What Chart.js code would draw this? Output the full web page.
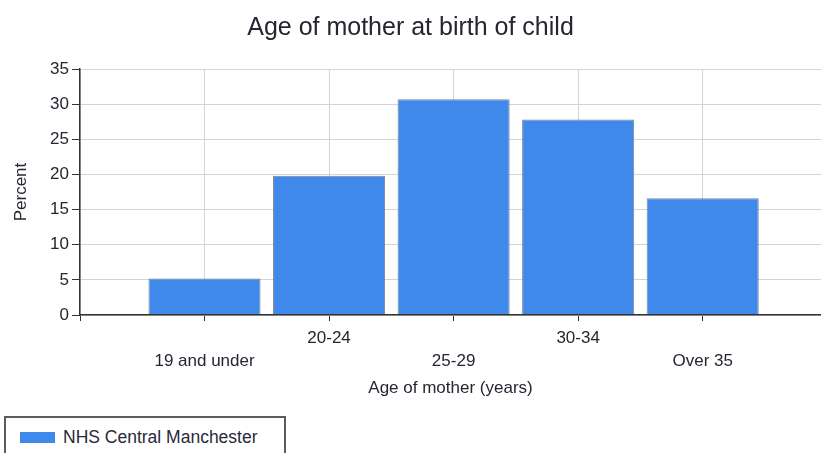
<!DOCTYPE html>
<html>
<head>
<meta charset="utf-8">
<script src="https://cdn.jsdelivr.net/npm/chart.js@4/dist/chart.umd.min.js"></script>
<style>
  html, body { margin: 0; padding: 0; background: #fff; }
  #wrap { position: relative; width: 821px; height: 453px; overflow: hidden; }
  #chart { position: absolute; left: 0; top: 0; }
  #legend {
    position: absolute; left: 4px; top: 416px; width: 282px; height: 50px;
    border: 2px solid #5c5c5c; box-sizing: border-box; background: #fff;
    font-family: "Liberation Sans", Arial, sans-serif; font-size: 17.5px; color: #2a2a3a;
  }
  #legend .item { position: absolute; left: 14px; top: 9px; display: flex; align-items: center; white-space: nowrap; }
  #legend .swatch { width: 35px; height: 11px; margin-right: 8px; }
</style>
</head>
<body>
<div id="wrap">
  <canvas id="chart" width="821" height="453"></canvas>
  <div id="legend"></div>
</div>
<script>
// Age bands of the mother and the share of births in each (percent)
const categories = ['19 and under', '20-24', '25-29', '30-34', 'Over 35'];
const percentValues = [5.2, 19.8, 30.7, 27.8, 16.6];
const seriesName = 'NHS Central Manchester';
const yTicks = [0, 5, 10, 15, 20, 25, 30, 35];

const FONT = '"Liberation Sans", Arial, sans-serif';
const TEXT = '#262630';

// Categories sit at positions 1..n on a numeric axis that starts at the y axis
const points = percentValues.map((v, i) => ({ x: i + 1, y: v }));

const chart = new Chart(document.getElementById('chart'), {
  type: 'bar',
  data: {
    datasets: [{
      label: seriesName,
      data: points,
      backgroundColor: '#3f89eb',
      borderColor: 'rgba(105,110,120,0.85)',
      borderWidth: 1,
      borderSkipped: 'bottom',
      barPercentage: 0.9,
      categoryPercentage: 1
    }]
  },
  options: {
    responsive: false,
    animation: false,
    devicePixelRatio: 1,
    layout: { padding: { left: 0, right: 0, top: 0, bottom: 0 } },
    plugins: {
      legend: { display: false },
      tooltip: { enabled: false },
      title: {
        display: true,
        text: 'Age of mother at birth of child',
        color: TEXT,
        font: { family: FONT, size: 25, weight: 'normal', lineHeight: 1.2 },
        padding: { top: 13, bottom: 26 }
      }
    },
    scales: {
      x: {
        type: 'linear',
        offset: false,
        min: 0,
        max: 5.95,
        afterBuildTicks: (scale) => {
          scale.ticks = [0, 1, 2, 3, 4, 5].map(v => ({ value: v }));
        },
        afterFit: (scale) => { scale.height = 138; },
        ticks: {
          autoSkip: false,
          maxRotation: 0,
          padding: 6,
          color: TEXT,
          font: { family: FONT, size: 17, lineHeight: 1.35 },
          callback: (value) => {
            if (value < 1 || value > categories.length) return '';
            const label = categories[value - 1];
            // alternate labels drop to a second row so they do not collide
            return value % 2 === 1 ? ['', label] : label;
          }
        },
        grid: {
          offset: false,
          color: '#d4d4d4',
          lineWidth: 1,
          tickColor: '#333',
          tickLength: 6
        },
        border: { color: '#333', width: 1.5, z: 1 },
        title: {
          display: true,
          text: 'Age of mother (years)',
          color: TEXT,
          font: { family: FONT, size: 17, lineHeight: 1.2 },
          padding: { top: 0, bottom: 54 }
        }
      },
      y: {
        min: 0,
        max: 35,
        afterBuildTicks: (scale) => {
          scale.ticks = yTicks.map(v => ({ value: v }));
        },
        afterFit: (scale) => { scale.width = 80; },
        ticks: {
          padding: 3,
          color: TEXT,
          font: { family: FONT, size: 17 }
        },
        grid: {
          color: '#d4d4d4',
          lineWidth: 1,
          tickColor: '#333',
          tickLength: 8
        },
        border: { color: '#333', width: 1.5, z: 1 },
        title: {
          display: true,
          text: 'Percent',
          color: TEXT,
          font: { family: FONT, size: 17, lineHeight: 1.2 },
          padding: { top: 11, bottom: 0 }
        }
      }
    }
  }
});

// Boxed legend below the plot, built from the chart's own legend items
const legendEl = document.getElementById('legend');
chart.options.plugins.legend.labels.generateLabels(chart).forEach(item => {
  const row = document.createElement('div');
  row.className = 'item';
  const sw = document.createElement('span');
  sw.className = 'swatch';
  sw.style.background = item.fillStyle;
  const tx = document.createElement('span');
  tx.textContent = item.text;
  row.appendChild(sw);
  row.appendChild(tx);
  legendEl.appendChild(row);
});
</script>
</body>
</html>
